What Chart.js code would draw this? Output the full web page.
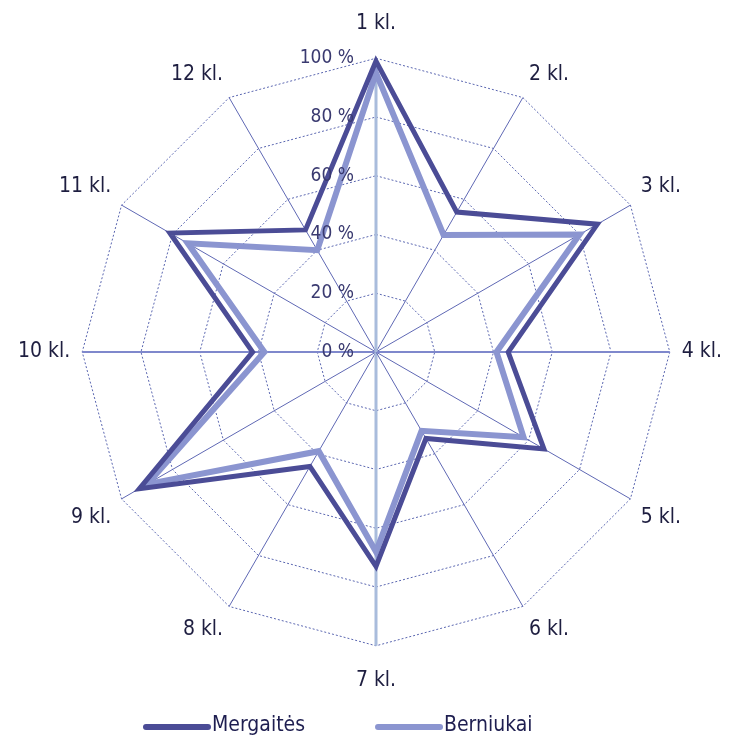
<!DOCTYPE html>
<html>
<head>
<meta charset="utf-8">
<script src="https://cdn.jsdelivr.net/npm/chart.js@4"></script>
<style>
  html, body { margin: 0; padding: 0; background: #fff; }
  #wrap { width: 730px; height: 743px; }
</style>
</head>
<body>
<div id="wrap"><canvas id="chart"></canvas></div>
<script>
// grades
const categories = ["1 kl.", "2 kl.", "3 kl.", "4 kl.", "5 kl.", "6 kl.", "7 kl.", "8 kl.", "9 kl.", "10 kl.", "11 kl.", "12 kl."];
// percentages
const mergaites = [99, 55, 87, 45, 66, 34, 73, 45, 93, 42, 81, 48];
const berniukai = [95, 46, 80, 41, 58, 31, 68, 39, 90, 38, 74, 40];
const tickValues = [0, 20, 40, 60, 80, 100];

const labelFont = "'DejaVu Sans Condensed', 'Open Sans', sans-serif";

// tick labels sit left of the vertical axis
const tickLabels = {
  id: "tickLabels",
  afterDraw(chart) {
    const s = chart.scales.r;
    const ctx = chart.ctx;
    ctx.save();
    ctx.font = "19px " + labelFont;
    ctx.fillStyle = "#3a3a70";
    ctx.textAlign = "right";
    ctx.textBaseline = "middle";
    tickValues.forEach((v) => {
      const d = s.getDistanceFromCenterForValue(v);
      ctx.fillText(v + " %", s.xCenter - 22, s.yCenter - d);
    });
    ctx.restore();
  },
};

// legend: thick line sample followed by the name, drawn under the chart
const lineLegend = {
  id: "lineLegend",
  afterDraw(chart) {
    const ctx = chart.ctx;
    const y = 726;
    let x = 143;
    ctx.save();
    ctx.font = "21px " + labelFont;
    ctx.textBaseline = "middle";
    ctx.textAlign = "left";
    chart.data.datasets.forEach((ds) => {
      ctx.strokeStyle = ds.borderColor;
      ctx.lineWidth = 6;
      ctx.lineCap = "round";
      ctx.beginPath();
      ctx.moveTo(x + 3, y + 1);
      ctx.lineTo(x + 65, y + 1);
      ctx.stroke();
      x += 69;
      ctx.fillStyle = "#1e1e50";
      ctx.fillText(ds.label, x, y);
      x += ctx.measureText(ds.label).width + 70;
    });
    ctx.restore();
  },
};

new Chart(document.getElementById("chart").getContext("2d"), {
  type: "radar",
  data: {
    labels: categories,
    datasets: [
      {
        label: "Mergaitės",
        data: mergaites,
        borderColor: "#4b4c96",
        backgroundColor: "#4b4c96",
        borderWidth: 5,
        fill: false,
        pointRadius: 0,
        order: 1,
      },
      {
        label: "Berniukai",
        data: berniukai,
        borderColor: "#8b95d0",
        backgroundColor: "#8b95d0",
        borderWidth: 6,
        fill: false,
        pointRadius: 0,
        order: 2,
      },
    ],
  },
  options: {
    responsive: true,
    maintainAspectRatio: false,
    animation: false,
    layout: { padding: { top: 10, left: 12, right: 2, bottom: 48 } },
    elements: { line: { tension: 0, borderJoinStyle: "miter" } },
    scales: {
      r: {
        min: 0,
        max: 100,
        ticks: { stepSize: 20, display: false },
        grid: {
          color: "#5a66b0",
          lineWidth: 1,
        },
        border: { dash: [2, 2] },
        angleLines: {
          color: (c) => (c.index % 6 === 0 ? "#a9bcdc" : (c.index % 3 === 0 ? "#7f88cc" : "#5f68b4")),
          lineWidth: (c) => (c.index % 6 === 0 ? 3 : (c.index % 3 === 0 ? 2 : 1)),
        },
        pointLabels: {
          font: { size: 21, family: labelFont },
          color: "#1e1e40",
          padding: (c) => (c.index % 6 === 0 ? 22 : 12),
        },
      },
    },
    plugins: {
      tooltip: { enabled: false },
      legend: { display: false },
    },
  },
  plugins: [tickLabels, lineLegend],
});
</script>
</body>
</html>
